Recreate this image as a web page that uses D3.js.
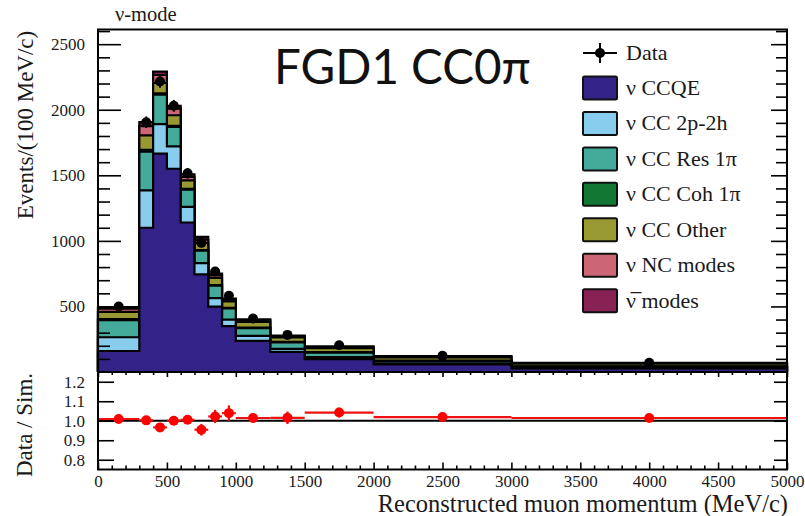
<!DOCTYPE html>
<html>
<head>
<meta charset="utf-8">
<script src="https://cdn.jsdelivr.net/npm/d3@7"></script>
<style>
  html, body { margin: 0; padding: 0; background: #fff; }
  svg { display: block; }
</style>
</head>
<body>
<svg id="chart" width="805" height="516"></svg>
<script>
// ---------------- data ----------------
const binEdges = [0, 300, 400, 500, 600, 700, 800, 900, 1000, 1250, 1500, 2000, 3000, 5000];
const ccqe    = [160, 1100, 1665, 1550, 1140, 745, 498, 350, 237, 154, 98, 58, 28];
const cc2p2h  = [105, 285, 225, 170, 120, 85, 65, 50, 38, 22, 15, 8, 4];
const ccRes   = [130, 295, 225, 150, 130, 95, 95, 85, 60, 50, 35, 18, 10];
const ccCoh   = [8, 15, 10, 8, 6, 5, 4, 4, 3, 3, 3, 3, 2];
const ccOther = [55, 110, 80, 80, 65, 55, 55, 50, 45, 35, 30, 24, 19];
const ncModes = [25, 70, 60, 50, 27, 25, 20, 13, 12, 8, 8, 5, 4];
const nubarModes = [12, 30, 25, 22, 20, 20, 13, 8, 7, 6, 7, 5, 3];
const dataCenters = [150, 350, 450, 550, 650, 750, 850, 950, 1125, 1375, 1750, 2500, 4000];
const dataValues  = [500, 1905, 2215, 2030, 1515, 985, 767, 582, 408, 283, 204, 123, 71];
const dataErrors  = [13, 44, 47, 45, 39, 31, 28, 24, 13, 11, 6, 3.5, 2];
const ratioValues = [1.009, 1.002, 0.966, 1.0, 1.005, 0.954, 1.022, 1.039, 1.014, 1.015, 1.042, 1.019, 1.014];
const ratioErrors = [0.015, 0.02, 0.02, 0.02, 0.02, 0.03, 0.034, 0.04, 0.02, 0.032, 0.025, 0.02, 0.015];
const seriesNames = ["ν CCQE", "ν CC 2p-2h", "ν CC Res 1π", "ν CC Coh 1π", "ν CC Other", "ν NC modes", "ν\u0305 modes"];
const seriesColors = ["#332288", "#88CCEE", "#44AA99", "#117733", "#999933", "#CC6677", "#882255"];
const upperTicks = [500, 1000, 1500, 2000, 2500];
const ratioTicks = [0.8, 0.9, 1.0, 1.1, 1.2];
const xTicks = [0, 500, 1000, 1500, 2000, 2500, 3000, 3500, 4000, 4500, 5000];

const seriesValues = [ccqe, cc2p2h, ccRes, ccCoh, ccOther, ncModes, nubarModes];

// ---------------- layout ----------------
const svg = d3.select("#chart");
const X0 = 98, X1 = 787;
const UT = 29.5, UB = 372;
const LT = 372, LB = 469.5;

const x = d3.scaleLinear().domain([0, 5000]).range([X0, X1]);
const yU = d3.scaleLinear().domain([0, 2612]).range([UB, UT]);
const yL = d3.scaleLinear().domain([0.75, 1.25]).range([LB, LT]);

const serif = '"Liberation Serif", "DejaVu Serif", serif';

// ---------------- stacked histogram ----------------
const nb = ccqe.length;
const cum = [];
let running = new Array(nb).fill(0);
seriesValues.forEach(s => {
  running = running.map((v, i) => v + s[i]);
  cum.push(running.slice());
});

const stepPts = arr => {
  const pts = binEdges.slice(0, -1).map((e, i) => [e, arr[i]]);
  pts.push([binEdges[binEdges.length - 1], arr[arr.length - 1]]);
  return pts;
};

const area = d3.area()
  .x(d => x(d[0])).y0(yU(0)).y1(d => yU(d[1]))
  .curve(d3.curveStepAfter);
const line = d3.line()
  .x(d => x(d[0])).y(d => yU(d[1]))
  .curve(d3.curveStepAfter);

const gHist = svg.append("g");
for (let k = cum.length - 1; k >= 0; k--) {
  const pts = stepPts(cum[k]);
  gHist.append("path").attr("d", area(pts))
    .attr("fill", seriesColors[k]).attr("stroke", "none");
  const outline = [[binEdges[0], 0]].concat(pts);
  gHist.append("path").attr("d", line(outline) + "L" + x(5000) + "," + yU(0))
    .attr("fill", "none").attr("stroke", "#000").attr("stroke-width", 2.2)
    .attr("stroke-linejoin", "miter");
}

// data points (upper)
const gData = svg.append("g");
dataCenters.forEach((c, i) => {
  gData.append("line")
    .attr("x1", x(c)).attr("x2", x(c))
    .attr("y1", yU(dataValues[i] - dataErrors[i])).attr("y2", yU(dataValues[i] + dataErrors[i]))
    .attr("stroke", "#000").attr("stroke-width", 2);
  gData.append("circle").attr("cx", x(c)).attr("cy", yU(dataValues[i])).attr("r", 5).attr("fill", "#000");
});

// ---------------- axes helpers ----------------
function styleAxis(g) {
  g.select(".domain").remove();
  g.selectAll(".tick line").attr("stroke", "#000").attr("stroke-width", 1.6);
  g.selectAll("text").attr("font-family", serif).attr("fill", "#1a1a1a");
}
const rangeStep = (a, b, s) => d3.range(Math.round(a / s), Math.round(b / s) + 1).map(v => +(v * s).toFixed(6));

// upper left axis
const upMinor = rangeStep(0, 2600, 100).filter(v => v % 500 !== 0 && v > 0);
svg.append("g").attr("transform", `translate(${X0},0)`)
  .call(d3.axisLeft(yU).tickValues(upperTicks).tickSize(-23).tickPadding(13).tickFormat(d3.format("d")))
  .call(styleAxis).selectAll("text").attr("font-size", 17);
svg.append("g").attr("transform", `translate(${X0},0)`)
  .call(d3.axisLeft(yU).tickValues(upMinor).tickSize(-12).tickFormat(""))
  .call(styleAxis);
// upper right axis
svg.append("g").attr("transform", `translate(${X1},0)`)
  .call(d3.axisRight(yU).tickValues(upperTicks).tickSize(-16).tickFormat(""))
  .call(styleAxis);
svg.append("g").attr("transform", `translate(${X1},0)`)
  .call(d3.axisRight(yU).tickValues(upMinor).tickSize(-11).tickFormat(""))
  .call(styleAxis);

// upper frame
svg.append("rect").attr("x", X0).attr("y", UT).attr("width", X1 - X0).attr("height", UB - UT)
  .attr("fill", "none").attr("stroke", "#000").attr("stroke-width", 2);

// ---------------- ratio panel ----------------
const gR = svg.append("g");
gR.append("line").attr("x1", X0).attr("x2", X1).attr("y1", yL(1)).attr("y2", yL(1))
  .attr("stroke", "#000").attr("stroke-width", 2.2);

dataCenters.forEach((c, i) => {
  gR.append("line")
    .attr("x1", x(binEdges[i])).attr("x2", x(binEdges[i + 1]))
    .attr("y1", yL(ratioValues[i])).attr("y2", yL(ratioValues[i]))
    .attr("stroke", "#ee1111").attr("stroke-width", 2.2);
  gR.append("line")
    .attr("x1", x(c)).attr("x2", x(c))
    .attr("y1", yL(ratioValues[i] - ratioErrors[i])).attr("y2", yL(ratioValues[i] + ratioErrors[i]))
    .attr("stroke", "#ee1111").attr("stroke-width", 2.2);
  gR.append("circle").attr("cx", x(c)).attr("cy", yL(ratioValues[i])).attr("r", 5).attr("fill", "#ff0000");
});

// ratio axes
svg.append("g").attr("transform", `translate(${X0},0)`)
  .call(d3.axisLeft(yL).tickValues(ratioTicks).tickSize(-16).tickPadding(13).tickFormat(d3.format(".1f")))
  .call(styleAxis).selectAll("text").attr("font-size", 17);
svg.append("g").attr("transform", `translate(${X1},0)`)
  .call(d3.axisRight(yL).tickValues(ratioTicks).tickSize(-13).tickFormat(""))
  .call(styleAxis);

const xMinor = rangeStep(0, 5000, 100).filter(v => v % 500 !== 0);
svg.append("g").attr("transform", `translate(0,${LB})`)
  .call(d3.axisBottom(x).tickValues(xTicks).tickSize(-7).tickPadding(5).tickFormat(d3.format("d")))
  .call(styleAxis).selectAll("text").attr("font-size", 17);
svg.append("g").attr("transform", `translate(0,${LB})`)
  .call(d3.axisBottom(x).tickValues(xMinor).tickSize(-4).tickFormat(""))
  .call(styleAxis);
svg.append("g").attr("transform", `translate(0,${LT})`)
  .call(d3.axisTop(x).tickValues(xTicks).tickSize(-5).tickFormat(""))
  .call(styleAxis);
svg.append("g").attr("transform", `translate(0,${LT})`)
  .call(d3.axisTop(x).tickValues(xMinor).tickSize(-3).tickFormat(""))
  .call(styleAxis);

svg.append("rect").attr("x", X0).attr("y", LT).attr("width", X1 - X0).attr("height", LB - LT)
  .attr("fill", "none").attr("stroke", "#000").attr("stroke-width", 2);

// ---------------- texts ----------------
svg.append("text").attr("x", 115).attr("y", 21).attr("font-family", serif).attr("font-size", 20.5)
  .attr("fill", "#1a1a1a").text("ν-mode");

svg.append("text").attr("x", 274).attr("y", 84).attr("font-family", "Lato, 'Open Sans', sans-serif")
  .attr("font-size", 47.5).attr("fill", "#111").text("FGD1 CC0π");

svg.append("text").attr("transform", "translate(25,125) rotate(-90)")
  .attr("text-anchor", "middle").attr("dominant-baseline", "central")
  .attr("font-family", serif).attr("font-size", 23).attr("fill", "#1a1a1a")
  .text("Events/(100 MeV/c)");

svg.append("text").attr("transform", "translate(24,425) rotate(-90)")
  .attr("text-anchor", "middle").attr("dominant-baseline", "central")
  .attr("font-family", serif).attr("font-size", 23).attr("fill", "#1a1a1a")
  .text("Data / Sim.");

svg.append("text").attr("x", 788).attr("y", 512).attr("text-anchor", "end")
  .attr("font-family", serif).attr("font-size", 24.5).attr("fill", "#1a1a1a")
  .text("Reconstructed muon momentum (MeV/c)");

// ---------------- legend ----------------
const gLeg = svg.append("g");
const legX = 583, legW = 34, legH = 23, legTextX = 626;
const dataRowY = 53;
gLeg.append("line").attr("x1", legX).attr("x2", legX + legW).attr("y1", dataRowY).attr("y2", dataRowY)
  .attr("stroke", "#000").attr("stroke-width", 2);
gLeg.append("line").attr("x1", legX + legW / 2).attr("x2", legX + legW / 2).attr("y1", dataRowY - 10).attr("y2", dataRowY + 10)
  .attr("stroke", "#000").attr("stroke-width", 2);
gLeg.append("circle").attr("cx", legX + legW / 2).attr("cy", dataRowY).attr("r", 5).attr("fill", "#000");
gLeg.append("text").attr("x", legTextX).attr("y", dataRowY + 7).attr("font-family", serif).attr("font-size", 22)
  .attr("fill", "#1a1a1a").text("Data");

seriesNames.forEach((name, i) => {
  const cy = 88 + i * 35.45;
  gLeg.append("rect").attr("x", legX).attr("y", cy - legH / 2).attr("width", legW).attr("height", legH)
    .attr("rx", 1.5).attr("fill", seriesColors[i]).attr("stroke", "#111").attr("stroke-width", 2);
  gLeg.append("text").attr("x", legTextX).attr("y", cy + 7).attr("font-family", serif).attr("font-size", 22)
    .attr("fill", "#1a1a1a").text(name);
});
</script>
</body>
</html>
